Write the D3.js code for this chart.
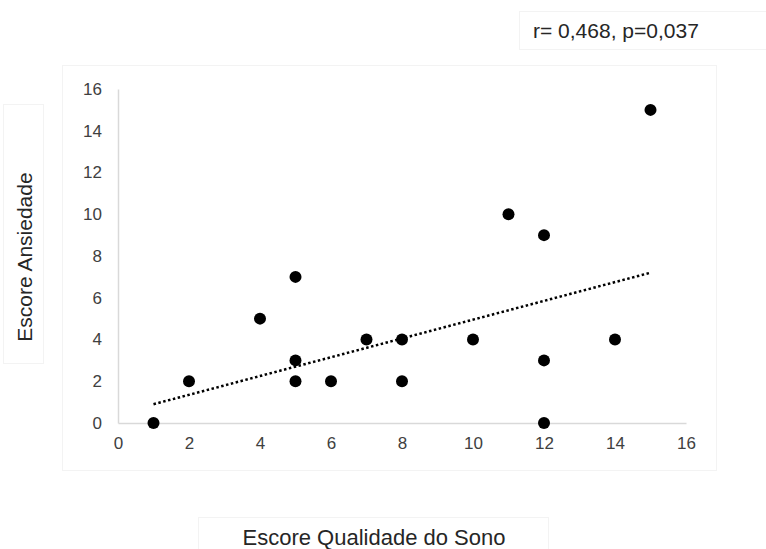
<!DOCTYPE html>
<html>
<head>
<meta charset="utf-8">
<script src="https://cdn.jsdelivr.net/npm/d3@7"></script>
<style>
  body { margin: 0; background: #fff; }
  svg { font-family: "Liberation Sans", Arial, sans-serif; }
</style>
</head>
<body>
<svg id="chart" width="766" height="549"></svg>
<script>
// data
var sono = [1, 2, 4, 5, 5, 5, 6, 7, 8, 8, 10, 11, 12, 12, 12, 14, 15];
var ansiedade = [0, 2, 5, 7, 3, 2, 2, 4, 4, 2, 4, 10, 9, 3, 0, 4, 15];
var trendX = [1, 15];
var trendY = [0.9, 7.2];
var xTicks = [0, 2, 4, 6, 8, 10, 12, 14, 16];
var yTicks = [0, 2, 4, 6, 8, 10, 12, 14, 16];
var statText = "r= 0,468, p=0,037";

var svg = d3.select("svg#chart");
var margin = {top: 89, left: 118};
var width = 568, height = 334;

// faint boxes
function box(x, y, w, h){
  svg.append("rect")
    .attr("x", x).attr("y", y).attr("width", w).attr("height", h)
    .attr("fill", "none").attr("stroke", "#f3f3f3").attr("stroke-width", 1);
}
box(62.5, 65.5, 654, 405);
box(3.5, 104.5, 40, 259);
box(198.5, 517.5, 350, 40);
box(519.5, 11.5, 250, 38);

var x = d3.scaleLinear().domain([0, 16]).range([0, width]);
var y = d3.scaleLinear().domain([0, 16]).range([height, 0]);

var g = svg.append("g")
  .attr("transform", `translate(${margin.left},${margin.top})`);

//xaxis
var xa = g.append("g")
  .attr("transform", `translate(0,${height})`)
  .call(d3.axisBottom(x).tickValues(xTicks).tickSize(0).tickPadding(14));
xa.select(".domain").attr("stroke", "#d9d9d9").attr("stroke-width", 1.5);
xa.selectAll("text").attr("font-size", "17px").attr("fill", "#404040")
  .attr("font-family", "Liberation Sans, Arial, sans-serif");

//yaxis
var ya = g.append("g")
  .call(d3.axisLeft(y).tickValues(yTicks).tickSize(0).tickPadding(16));
ya.select(".domain").attr("stroke", "#d9d9d9").attr("stroke-width", 1.5);
ya.selectAll("text").attr("font-size", "17px").attr("fill", "#404040")
  .attr("font-family", "Liberation Sans, Arial, sans-serif");

//trendline
var line = d3.line().x(d => x(d[0])).y(d => y(d[1]));
g.append("path")
  .datum(d3.zip(trendX, trendY))
  .attr("d", line)
  .attr("fill", "none")
  .attr("stroke", "#000")
  .attr("stroke-width", 2.5)
  .attr("stroke-dasharray", "2.5,2.5");

//points
g.append("g")
  .selectAll("circle")
  .data(d3.zip(sono, ansiedade))
  .enter().append("circle")
  .attr("cx", d => x(d[0]))
  .attr("cy", d => y(d[1]))
  .attr("r", 6)
  .attr("fill", "#000");

//labels
svg.append("text")
  .attr("x", 374).attr("y", 545)
  .attr("text-anchor", "middle")
  .attr("font-size", "22px").attr("fill", "#262626")
  .text("Escore Qualidade do Sono");

svg.append("text")
  .attr("transform", "translate(32,257) rotate(-90)")
  .attr("text-anchor", "middle")
  .attr("font-size", "21px").attr("fill", "#262626")
  .text("Escore Ansiedade");

svg.append("text")
  .attr("x", 533).attr("y", 38)
  .attr("font-size", "21px").attr("fill", "#262626")
  .text(statText);
</script>
</body>
</html>
